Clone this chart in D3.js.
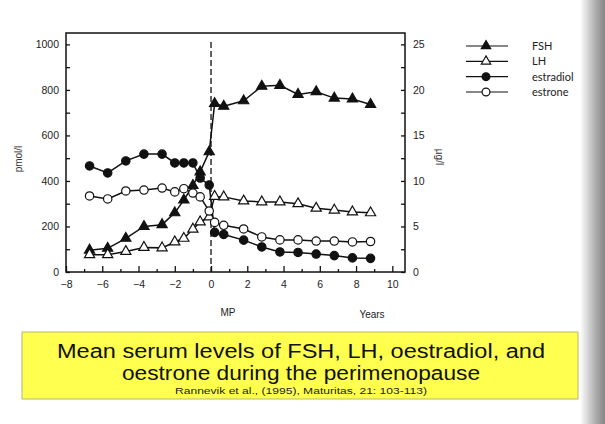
<!DOCTYPE html>
<html><head><meta charset="utf-8">
<script src="https://cdn.jsdelivr.net/npm/d3@7"></script>
<style>html,body{margin:0;padding:0;background:#fff;}svg{display:block;}</style>
</head><body>
<svg id="c" width="605" height="424"></svg>
<script>
// ---- data ----
const years = [-6.7,-5.7,-4.7,-3.7,-2.7,-2.0,-1.5,-1.0,-0.6,-0.1,0.2,0.7,1.8,2.8,3.8,4.8,5.8,6.8,7.8,8.8];
const fsh = [2.4,2.6,3.7,5.0,5.2,6.5,7.9,9.5,11.0,13.2,18.5,18.2,18.8,20.4,20.5,19.5,19.8,19.1,19.0,18.4];          // right axis
const lh  = [1.9,1.9,2.25,2.7,2.65,3.3,3.7,4.7,5.5,6.05,8.3,8.25,7.8,7.7,7.7,7.5,7.0,6.8,6.6,6.5];                 // right axis
const estradiol = [466,435,488,518,518,479,479,479,413,382,174,165,140,110,88,86,79,72,62,60];                 // left axis
const estrone   = [334,321,356,360,369,352,366,347,330,268,218,205,189,154,141,141,136,136,132,134];            // left axis
const xTicksMajor = [-8,-6,-4,-2,0,2,4,6,8,10];
const xTicksMinor = [-7,-5,-3,-1,1,3,5,7,9];
const yLeftTicks = [0,100,200,300,400,500,600,700,800,900,1000];
const yLeftLabels = [0,200,400,600,800,1000];
const yRightTicks = [0,2.5,5,7.5,10,12.5,15,17.5,20,22.5,25];
const yRightLabels = [0,5,10,15,20,25];
const legendNames = ["FSH","LH","estradiol","estrone"];
const titleLines = ["Mean serum levels of FSH, LH, oestradiol, and","oestrone during the perimenopause"];
const citation = "Rannevik et al., (1995), Maturitas, 21: 103-113)";

const svg = d3.select("#c");
const L = 66, R = 405, T = 33, B = 272;
const x = d3.scaleLinear().domain([-8,10.7]).range([L,R]);
const yL = d3.scaleLinear().domain([0,1050]).range([B,T]);
const yR = d3.scaleLinear().domain([0,26.25]).range([B,T]);

// right edge gradient
const defs = svg.append("defs");
const g1 = defs.append("linearGradient").attr("id","edge").attr("x1","0").attr("x2","1");
g1.append("stop").attr("offset","0").attr("stop-color","#fff");
g1.append("stop").attr("offset","0.6").attr("stop-color","#b0b0b0");
g1.append("stop").attr("offset","1").attr("stop-color","#858585");
svg.append("rect").attr("x",580).attr("y",0).attr("width",25).attr("height",424).attr("fill","url(#edge)");

const font = "'Liberation Sans', Arial, sans-serif";

// frame
svg.append("rect").attr("x",L).attr("y",T).attr("width",R-L).attr("height",B-T)
  .attr("fill","none").attr("stroke","#111").attr("stroke-width",1.5);

function styleAxis(g){
  g.select(".domain").remove();
  g.selectAll("line").attr("stroke","#111").attr("stroke-width",1.3);
  g.selectAll("text").attr("font-family",font).attr("font-size",10.5).attr("fill","#222");
}
svg.append("g").attr("transform",`translate(${L},0)`)
  .call(d3.axisLeft(yL).tickValues(yLeftTicks).tickSize(-4).tickPadding(7)
    .tickFormat(d => yLeftLabels.includes(d) ? d : "")).call(styleAxis);
svg.append("g").attr("transform",`translate(${R},0)`)
  .call(d3.axisRight(yR).tickValues(yRightTicks).tickSize(-4).tickPadding(8)
    .tickFormat(d => yRightLabels.includes(d) ? d : "")).call(styleAxis);
svg.append("g").attr("transform",`translate(0,${B})`)
  .call(d3.axisBottom(x).tickValues(xTicksMajor).tickSize(-6).tickPadding(9)).call(styleAxis);
svg.append("g").attr("transform",`translate(0,${B})`)
  .call(d3.axisBottom(x).tickValues(xTicksMinor).tickSize(-3).tickFormat("")).call(styleAxis);

// axis labels
svg.append("text").attr("transform","translate(22,159) rotate(-90)").attr("text-anchor","middle")
  .attr("font-family",font).attr("font-size",10).attr("fill","#333").text("pmol/l");
svg.append("text").attr("transform","translate(436,157) rotate(90)").attr("text-anchor","middle")
  .attr("font-family",font).attr("font-size",10).attr("fill","#333").text("µg/l");
svg.append("text").attr("x",228).attr("y",316).attr("text-anchor","middle")
  .attr("font-family",font).attr("font-size",10).attr("fill","#222").text("MP");
svg.append("text").attr("x",372).attr("y",318).attr("text-anchor","middle")
  .attr("font-family",font).attr("font-size",10).attr("fill","#222").text("Years");

// MP dashed line
svg.append("line").attr("x1",x(0)).attr("x2",x(0)).attr("y1",42).attr("y2",B)
  .attr("stroke","#111").attr("stroke-width",1.3).attr("stroke-dasharray","6,3");

// series
const series = [
  {name:"FSH", vals:fsh, y:yR, sym:d3.symbolTriangle, fill:"#111"},
  {name:"LH", vals:lh, y:yR, sym:d3.symbolTriangle, fill:"#fff"},
  {name:"estradiol", vals:estradiol, y:yL, sym:d3.symbolCircle, fill:"#111"},
  {name:"estrone", vals:estrone, y:yL, sym:d3.symbolCircle, fill:"#fff"}
];
const symSize = s => s.sym===d3.symbolCircle ? 55 : 45;
series.forEach(s => {
  const pts = years.map((yr,i)=>[yr,s.vals[i]]);
  svg.append("path").datum(pts)
    .attr("d", d3.line().x(d=>x(d[0])).y(d=>s.y(d[1])))
    .attr("fill","none").attr("stroke","#111").attr("stroke-width",1.5);
});
series.forEach(s => {
  const pts = years.map((yr,i)=>[yr,s.vals[i]]);
  svg.append("g").selectAll("path").data(pts).join("path")
    .attr("transform", d=>`translate(${x(d[0])},${s.y(d[1])})`)
    .attr("d", d3.symbol().type(s.sym).size(symSize(s)))
    .attr("fill", s.fill).attr("stroke","#111").attr("stroke-width",1.2);
});

// legend
const ly = d3.scalePoint().domain(legendNames).range([46,92]);
series.forEach(s => {
  const yy = ly(s.name);
  svg.append("line").attr("x1",466).attr("x2",508).attr("y1",yy).attr("y2",yy)
    .attr("stroke","#111").attr("stroke-width",1.2);
  svg.append("path").attr("transform",`translate(486,${yy})`)
    .attr("d", d3.symbol().type(s.sym).size(s.sym===d3.symbolCircle ? 48 : 38))
    .attr("fill", s.fill).attr("stroke","#111").attr("stroke-width",1.2);
  svg.append("text").attr("x",532).attr("y",yy+4)
    .attr("font-family","Lato, 'DejaVu Sans', sans-serif").attr("font-size",11).attr("fill","#222").text(s.name);
});

// caption box
svg.append("rect").attr("x",22).attr("y",332).attr("width",556).attr("height",67)
  .attr("fill","#ffff4f").attr("stroke","#b8b86a").attr("stroke-width",1);
const titleW = [488, 358];
svg.selectAll("text.title").data(titleLines).join("text").attr("class","title")
  .attr("x",301).attr("y",(d,i)=>358+i*22).attr("text-anchor","middle")
  .attr("textLength",(d,i)=>titleW[i]).attr("lengthAdjust","spacingAndGlyphs")
  .attr("font-family",font).attr("font-size",20).attr("fill","#111").text(d=>d);
svg.append("text").attr("x",301).attr("y",394).attr("text-anchor","middle")
  .attr("textLength",252).attr("lengthAdjust","spacingAndGlyphs")
  .attr("font-family",font).attr("font-size",8.5).attr("fill","#222").text(citation);
</script>
</body></html>
